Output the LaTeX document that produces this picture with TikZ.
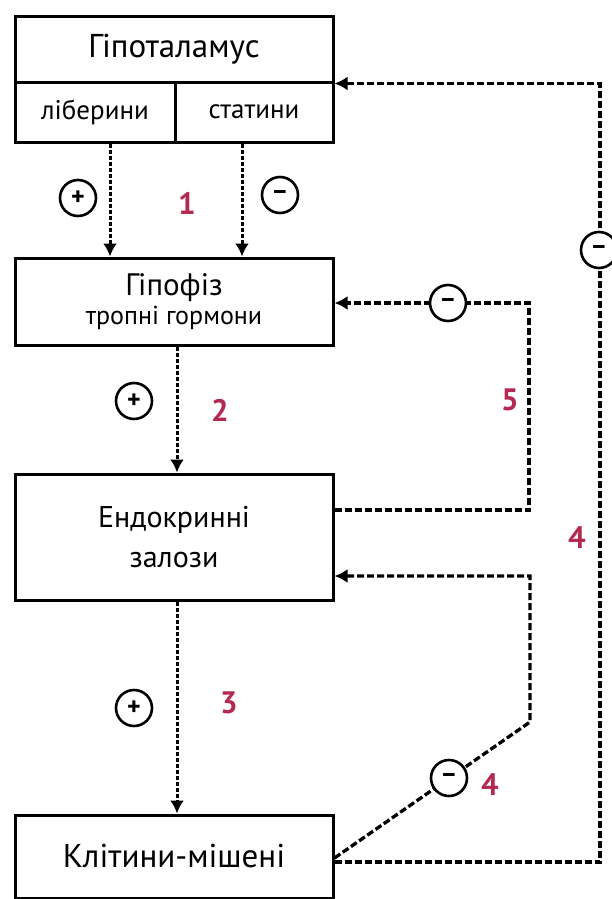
\documentclass[tikz,border=0pt]{standalone}
\usepackage{fontspec}
\setmainfont{PT Sans}
\usetikzlibrary{arrows.meta}
\definecolor{numred}{HTML}{B22A52}
\tikzset{
  box/.style={draw, line width=3pt, minimum width=318pt, inner sep=0pt, align=center},
  subbox/.style={draw, line width=3pt, minimum height=60pt, inner sep=0pt},
  arr/.style={line width=3pt, dash pattern=on 4pt off 2pt, -{Latex[length=13pt,width=14pt]}},
  fb/.style={line width=3.3pt, dash pattern=on 7pt off 3pt},
  fbarr/.style={fb, -{Latex[length=13pt,width=14pt]}},
  sign/.style={circle, draw, line width=2.6pt, fill=white, minimum size=36pt, inner sep=0pt, font=\fontsize{26}{26}\selectfont\bfseries},
  num/.style={text=numred, font=\fontsize{31}{31}\selectfont\bfseries}
}
\begin{document}
\begin{tikzpicture}[x=1pt,y=-1pt]
\useasboundingbox (0,0) rectangle (611,899);
% boxes
\node[box, minimum height=65pt, font=\fontsize{33}{33}\selectfont] (hyp) at (174,49.5) {Гіпоталамус};
\node[subbox, minimum width=160pt, font=\fontsize{27}{27}\selectfont] (lib) at (95,112) {ліберини};
\node[subbox, minimum width=158pt, font=\fontsize{27}{27}\selectfont] (stat) at (254,112) {статини};
\node[box, minimum height=87pt] (pit) at (174,301.5) {{\fontsize{31}{36}\selectfont Гіпофіз}\\[3pt]{\fontsize{26}{30}\selectfont тропні гормони}};
\node[box, minimum height=126pt, font=\fontsize{30}{40}\selectfont] (endo) at (174,537) {Ендокринні\\залози};
\node[box, minimum height=83pt, font=\fontsize{33}{33}\selectfont] (tgt) at (174,856.5) {Клітини-мішені};
% helper coordinates
\coordinate (xl) at (110,0);
\coordinate (xs) at (242,0);
\coordinate (xc) at (177,0);
\coordinate (x5) at (529,0);
\coordinate (x4) at (600,0);
\coordinate (y5a) at (0,303);
\coordinate (y5b) at (0,510);
\coordinate (y4a) at (0,576);
\coordinate (y4b) at (0,858);
\coordinate (y4c) at (0,862);
\coordinate (d4) at (530,722);
% forward arrows
\draw[arr] (lib.south -| xl) -- (pit.north -| xl);
\draw[arr] (stat.south -| xs) -- (pit.north -| xs);
\draw[arr] (pit.south -| xc) -- (endo.north -| xc);
\draw[arr] (endo.south -| xc) -- (tgt.north -| xc);
% feedback 5
\draw[fbarr] (endo.east |- y5b) -- (x5 |- y5b) -- (x5 |- y5a) -- (pit.east |- y5a);
% feedback 4 outer
\draw[fbarr] (tgt.east |- y4c) -- (x4 |- y4c) -- (x4 |- hyp.south) -- (hyp.south east);
% feedback 4 inner
\draw[fbarr] (tgt.east |- y4b) -- (d4) -- (d4 |- y4a) -- (endo.east |- y4a);
% signs
\node[sign] (p1) at (78,198) {+};
\node[sign] (m1) at (280,195) {–};
\node[sign] (p2) at (134,401) {+};
\node[sign] (p3) at (134,708) {+};
\node[sign] (m5) at (448,303) {–};
\node[sign] (m4o) at (599,250) {–};
\node[sign] (m4i) at (449,778) {–};
% numbers
\node[num] (n1) at (187,203) {1};
\node[num] (n2) at (220,410) {2};
\node[num] (n3) at (229,703) {3};
\node[num] (n5) at (510,400) {5};
\node[num] (n4o) at (577,538) {4};
\node[num] (n4i) at (490,785) {4};
\end{tikzpicture}
\end{document}
